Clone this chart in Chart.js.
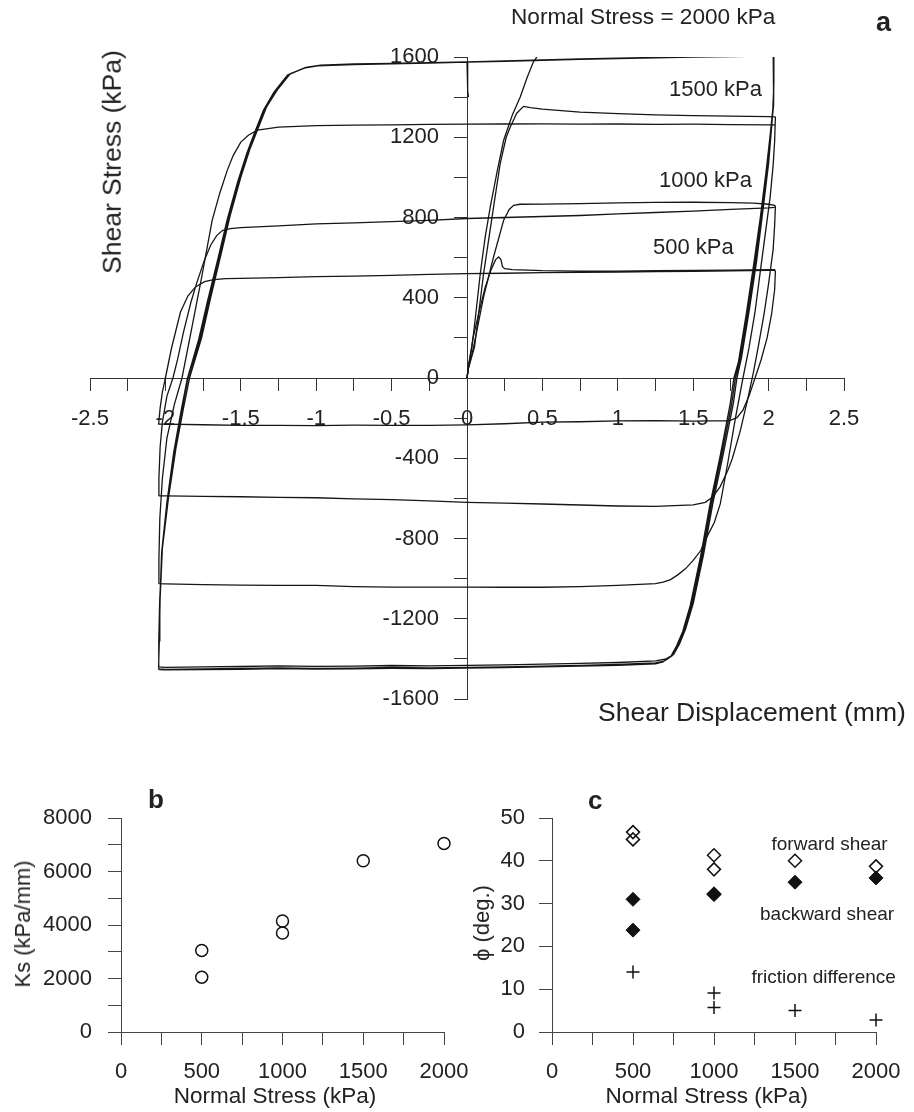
<!DOCTYPE html>
<html><head><meta charset="utf-8">
<script src="https://cdn.jsdelivr.net/npm/chart.js"></script>
<style>
html,body{margin:0;padding:0;background:#fff;}
#wrap{position:relative;width:914px;height:1112px;overflow:hidden;background:#fff;}
canvas{position:absolute;left:0;top:0;}
.t{position:absolute;white-space:nowrap;line-height:1;color:#222;font-family:'Liberation Sans',Arial,Helvetica,sans-serif;}
.b{font-weight:bold;}
.rot{transform:translate(-50%,-50%) rotate(-90deg);}
.ctr{transform:translateX(-50%);}
</style></head><body>
<div id="wrap">
<canvas id="ca" width="914" height="1112"></canvas>
<canvas id="cb" width="914" height="1112"></canvas>
<canvas id="cc" width="914" height="1112"></canvas>
<div class="t" style="font-size:22.6px;left:511px;top:5.9px;">Normal Stress = 2000 kPa</div>
<div class="t b" style="font-size:27px;left:876px;top:8.6px;">a</div>
<div class="t" style="font-size:22px;left:669px;top:78px;">1500 kPa</div>
<div class="t" style="font-size:22px;left:659px;top:169.4px;">1000 kPa</div>
<div class="t" style="font-size:22px;left:653px;top:236.4px;">500 kPa</div>
<div class="t" style="font-size:26.5px;left:598px;top:698.6px;">Shear Displacement (mm)</div>
<div class="t rot" style="font-size:26.5px;left:111.8px;top:161.7px;">Shear Stress (kPa)</div>
<div class="t b" style="font-size:26px;left:148px;top:786px;">b</div>
<div class="t rot" style="font-size:22px;left:23.4px;top:924px;">Ks (kPa/mm)</div>
<div class="t ctr" style="font-size:22.5px;left:275px;top:1085px;">Normal Stress (kPa)</div>
<div class="t b" style="font-size:26px;left:588px;top:787px;">c</div>
<div class="t rot" style="font-size:22px;left:482px;top:923px;">ϕ (deg.)</div>
<div class="t ctr" style="font-size:22.5px;left:706.7px;top:1085px;">Normal Stress (kPa)</div>
<div class="t" style="font-size:19px;left:771.5px;top:833.9px;">forward shear</div>
<div class="t" style="font-size:19px;left:760px;top:903.9px;">backward shear</div>
<div class="t" style="font-size:19px;left:751.5px;top:966.9px;">friction difference</div>
</div>
<script>
// ---------- Panel a: shear displacement (mm) vs shear stress (kPa) ----------
const x500 = [
  0, 0.01, 0.04, 0.08, 0.12, 0.16, 0.19, 0.21, 0.225, 0.235, 0.25, 0.3, 0.5, 0.75, 1.0, 1.25, 1.5, 1.75, 2.0, 2.04,
  2.045, 2.04, 2.02, 1.99, 1.95, 1.91, 1.87, 1.83, 1.79, 1.75, 1.72, 1.6, 1.5, 1.25, 1.0, 0.75, 0.5, 0.25, 0, -0.25, -0.5, -0.75, -1.0, -1.25, -1.5, -1.75, -2.0, -2.04,
  -2.045, -2.035, -2.02, -2.0, -1.96, -1.9, -1.85, -1.8, -1.74, -1.68, -1.6, -1.5, -1.25, -1.0, -0.75, -0.5, -0.25, 0, 0.25, 0.5, 0.75, 1.0, 1.25, 1.5, 1.75, 2.0, 2.04
];
const y500 = [
  0, 60, 200, 330, 450, 540, 590, 603, 590, 555, 545, 540, 535, 533, 533, 535, 536, 537, 540, 540,
  530, 440, 320, 200, 90, 0, -90, -160, -198, -210, -213, -214, -215, -212, -214, -218, -220, -228, -234, -236, -236, -235, -237, -236, -236, -233, -230, -230,
  -230, -150, -70, 0, 147, 329, 410, 454, 480, 490, 495, 497, 500, 505, 508, 512, 517, 520, 522, 525, 526, 528, 530, 532, 534, 537, 538
];
const x1000 = [
  0, 0.01, 0.044, 0.11, 0.176, 0.243, 0.28, 0.309, 0.35, 0.5, 0.75, 1.0, 1.25, 1.5, 1.75, 1.9, 2.0, 2.04,
  2.045, 2.04, 2.03, 2.0, 1.97, 1.93, 1.9, 1.86, 1.81, 1.76, 1.73, 1.68, 1.63, 1.58, 1.5, 1.25, 1.0, 0.75, 0.5, 0.25, 0, -0.25, -0.5, -0.75, -1.0, -1.25, -1.5, -1.75, -2.0, -2.04,
  -2.045, -2.043, -2.035, -2.02, -1.99, -1.95, -1.92, -1.88, -1.83, -1.79, -1.74, -1.7, -1.66, -1.62, -1.57, -1.5, -1.25, -1.0, -0.75, -0.5, -0.25, 0, 0.25, 0.5, 0.75, 1.0, 1.25, 1.5, 1.75, 2.0, 2.04
];
const y1000 = [
  0, 50, 155, 404, 603, 786, 840, 861, 866, 867, 869, 873, 875, 876, 874, 872, 866, 860,
  855, 760, 640, 470, 320, 150, 30, -110, -270, -400, -460, -540, -593, -620, -632, -640, -638, -633, -628, -624, -620, -612, -606, -602, -597, -595, -592, -590, -588, -588,
  -588, -500, -344, -220, -90, 0, 90, 229, 380, 479, 590, 662, 710, 736, 745, 750, 758, 768, 773, 779, 786, 795, 800, 805, 810, 818, 825, 832, 840, 848, 850
];
const x1500 = [
  0, 0.01, 0.05, 0.11, 0.176, 0.22, 0.26, 0.287, 0.33, 0.375, 0.42, 0.5, 0.75, 1.0, 1.25, 1.5, 1.75, 2.0, 2.04,
  2.045, 2.04, 2.03, 2.01, 1.98, 1.95, 1.91, 1.87, 1.83, 1.78, 1.73, 1.68, 1.64, 1.59, 1.55, 1.5, 1.45, 1.4, 1.35, 1.3, 1.25, 1.0, 0.75, 0.5, 0.25, 0, -0.25, -0.5, -0.75, -1.0, -1.25, -1.5, -1.75, -2.0, -2.04,
  -2.045, -2.043, -2.037, -2.02, -1.99, -1.94, -1.89, -1.83, -1.76, -1.69, -1.64, -1.59, -1.55, -1.5, -1.45, -1.39, -1.32, -1.25, -1.0, -0.75, -0.5, -0.25, 0, 0.25, 0.5, 0.75, 1.0, 1.25, 1.5, 1.75, 2.0, 2.04
];
const y1500 = [
  0, 50, 155, 520, 852, 1069, 1200, 1251, 1320, 1354, 1348, 1340, 1325, 1318, 1312, 1308, 1305, 1303, 1302,
  1300, 1180, 1060, 900, 730, 560, 330, 150, 0, -200, -420, -626, -720, -793, -860, -909, -950, -980, -1005, -1018, -1025, -1034, -1040, -1043, -1043, -1042, -1042, -1042, -1040, -1034, -1034, -1032, -1030, -1026, -1025,
  -1025, -900, -700, -500, -300, -130, 0, 230, 500, 786, 920, 1035, 1110, 1176, 1210, 1235, 1243, 1250, 1258, 1260, 1262, 1264, 1265, 1266, 1267, 1265, 1266, 1264, 1265, 1263, 1262, 1262
];
const x2000 = [
  0, 0.01, 0.033, 0.06, 0.088, 0.12, 0.154, 0.2, 0.243, 0.3, 0.353, 0.4, 0.44, 0.474, 0.52, 0.6, 0.75, 1.0, 1.25, 1.5, 1.75, 2.0, 2.03,
  2.035, 2.035, 2.03, 2.02, 2.0, 1.96, 1.92, 1.87, 1.82, 1.79, 1.766, 1.70, 1.63, 1.57, 1.50, 1.45, 1.41, 1.37, 1.32, 1.25, 1.0, 0.75, 0.5, 0.25, 0, -0.25, -0.5, -0.75, -1.0, -1.25, -1.5, -1.75, -2.0, -2.045,
  -2.045, -2.04, -2.035, -2.02, -1.98, -1.93, -1.88, -1.84, -1.76, -1.7, -1.63, -1.57, -1.5, -1.44, -1.39, -1.33, -1.26, -1.17, -1.06, -0.97, -0.75, -0.5, -0.25, 0, 0.25, 0.5, 0.75, 1.0, 1.25, 1.5, 1.75, 2.0, 2.035,
  2.035, 2.035, 2.03, 2.015, 1.995, 1.955, 1.91, 1.86, 1.81, 1.78, 1.755, 1.69, 1.62, 1.56, 1.49, 1.44, 1.40, 1.36, 1.31, 1.25, 1.0, 0.75, 0.5, 0.25, 0, -0.25, -0.5, -0.75, -1.0, -1.25, -1.5, -1.75, -2.0, -2.045,
  -2.045, -2.042, -2.037, -2.025, -1.99, -1.945, -1.895, -1.855, -1.78, -1.72, -1.65, -1.59, -1.52, -1.46, -1.41, -1.35, -1.28, -1.19, -1.08, -0.99, -0.75, -0.5, -0.25, 0, 0.25, 0.5, 0.75, 1.0, 1.25, 1.5, 1.75, 2.0, 2.035,
  2.035, 2.035, 2.028, 2.01, 1.985, 1.945, 1.90, 1.85, 1.80, 1.77, 1.745, 1.68, 1.61, 1.55, 1.48, 1.43, 1.39, 1.35, 1.30, 1.25, 1.0, 0.75, 0.5, 0.25, 0, -0.25, -0.5, -0.75, -1.0, -1.25, -1.5, -1.75, -2.0, -2.045,
  -2.045, -2.043, -2.038, -2.022, -1.985, -1.94, -1.89, -1.85, -1.77, -1.71, -1.64, -1.58, -1.51, -1.45, -1.40, -1.34, -1.27, -1.18, -1.07, -0.98, -0.75, -0.5, -0.25, -0.05, 0, 0.003, 0.006, 0.01
];
const y2000 = [
  0, 60, 155, 330, 520, 700, 852, 1030, 1185, 1310, 1401, 1500, 1575, 1612, 1620, 1625, 1627, 1630, 1632, 1635, 1638, 1642, 1645,
  1645, 1500, 1380, 1250, 1070, 820, 580, 330, 100, 0, -128, -377, -626, -875, -1125, -1250, -1324, -1378, -1400, -1410, -1418, -1422, -1426, -1430, -1432, -1435, -1433, -1436, -1437, -1435, -1438, -1440, -1442, -1440,
  -1440, -1300, -1100, -850, -600, -350, -150, 0, 200, 400, 620, 811, 1000, 1140, 1235, 1350, 1434, 1518, 1550, 1560, 1565, 1568, 1572, 1576, 1580, 1585, 1590, 1594, 1598, 1600, 1603, 1607, 1608,
  1608, 1480, 1360, 1230, 1060, 810, 570, 320, 90, 0, -130, -380, -630, -880, -1130, -1260, -1330, -1385, -1410, -1420, -1428, -1432, -1436, -1440, -1442, -1445, -1443, -1446, -1447, -1445, -1448, -1450, -1452, -1450,
  -1450, -1310, -1120, -870, -620, -370, -160, -5, 190, 385, 600, 790, 980, 1120, 1220, 1335, 1425, 1510, 1545, 1556, 1562, 1566, 1570, 1574, 1578, 1583, 1588, 1592, 1596, 1599, 1602, 1605, 1606,
  1606, 1470, 1340, 1210, 1040, 800, 560, 310, 80, 0, -130, -385, -635, -885, -1135, -1265, -1335, -1390, -1415, -1425, -1432, -1436, -1440, -1444, -1446, -1448, -1447, -1450, -1451, -1449, -1452, -1454, -1455, -1453,
  -1453, -1310, -1110, -860, -610, -360, -155, 0, 195, 390, 610, 800, 990, 1130, 1228, 1342, 1430, 1514, 1548, 1558, 1563, 1567, 1571, 1574, 1575, 1500, 1430, 1400
];
const aXTicks = ['-2.5', '-2', '-1.5', '-1', '-0.5', '0', '0.5', '1', '1.5', '2', '2.5'];
const aYTicks = ['-1600', '-1200', '-800', '-400', '0', '400', '800', '1200', '1600'];

// ---------- Panel b: Ks vs normal stress ----------
const ksStress = [500, 500, 1000, 1000, 1500, 2000];
const ksValue = [3050, 2050, 4150, 3700, 6400, 7050];
const bXTicks = ['0', '500', '1000', '1500', '2000'];
const bYTicks = ['0', '2000', '4000', '6000', '8000'];

// ---------- Panel c: friction angle vs normal stress ----------
const fwdStress = [500, 500, 1000, 1000, 1500, 2000];
const phiForward = [46.7, 45.0, 41.3, 38.0, 40.0, 38.7];
const bwdStress = [500, 500, 1000, 1000, 1500, 2000];
const phiBackward = [31.0, 23.8, 32.3, 32.1, 35.0, 36.0];
const diffStress = [500, 1000, 1000, 1500, 2000];
const phiDifference = [14.0, 9.1, 5.7, 5.0, 2.8];
const cXTicks = ['0', '500', '1000', '1500', '2000'];
const cYTicks = ['0', '10', '20', '30', '40', '50'];

// ---------- helpers ----------
function toPoints(xs, ys) { return xs.map((x, i) => ({ x: x, y: ys[i] })); }
function labelFrom(list, suffix) {
  return (v) => {
    const hit = list.find(l => Math.abs(parseFloat(l) - v) < 1e-6);
    return hit === undefined ? '' : hit + (suffix || '');
  };
}
function fixedFit(size) {
  return (s) => {
    if (s.isHorizontal()) s.height = size; else s.width = size;
    s.paddingLeft = 0; s.paddingRight = 0; s.paddingTop = 0; s.paddingBottom = 0;
  };
}
Chart.defaults.font.family = "'Liberation Sans', Arial, Helvetica, sans-serif";
Chart.defaults.color = '#222';
const common = {
  responsive: false, animation: false, devicePixelRatio: 1, events: [],
  plugins: { legend: { display: false }, tooltip: { enabled: false } }
};
function axis(extra, boxSize, tickLen, tickColor, ticks) {
  return Object.assign({
    type: 'linear', afterFit: fixedFit(boxSize),
    grid: { display: true, drawOnChartArea: false, drawTicks: true, tickLength: tickLen, tickColor: tickColor, tickWidth: 1 },
    border: { display: true, color: tickColor, width: 1 },
    ticks: Object.assign({ autoSkip: false, maxRotation: 0, minRotation: 0, color: '#222', font: { size: 22 } }, ticks)
  }, extra);
}

// ---------- Panel a ----------
const loops = [[x500, y500], [x1000, y1000], [x1500, y1500], [x2000, y2000]];
new Chart(document.getElementById('ca'), {
  type: 'scatter',
  data: {
    datasets: loops.map(([xs, ys]) => ({
      data: toPoints(xs, ys), showLine: true, pointRadius: 0, borderWidth: 1.3,
      borderColor: '#161616', backgroundColor: '#161616', tension: 0, fill: false
    }))
  },
  options: Object.assign({}, common, {
    layout: { padding: { left: 90, right: 70, top: 57, bottom: 413 } },
    scales: {
      x: axis({ min: -2.5, max: 2.5, position: { y: 0 } }, 0, 12, '#333',
        { stepSize: 0.25, padding: 16, callback: labelFrom(aXTicks) }),
      y: axis({ min: -1600, max: 1600, position: { x: 0 } }, 0, 13, '#333',
        { stepSize: 200, callback: labelFrom(aYTicks, '\u2002\u2002 ') })
    }
  })
});

// ---------- Panel b ----------
new Chart(document.getElementById('cb'), {
  type: 'scatter',
  data: {
    datasets: [{
      data: toPoints(ksStress, ksValue), pointStyle: 'circle', pointRadius: 6,
      pointBorderWidth: 1.5, pointBorderColor: '#111', pointBackgroundColor: 'rgba(255,255,255,0)', clip: false
    }]
  },
  options: Object.assign({}, common, {
    layout: { padding: { left: 41, right: 470, top: 818, bottom: 20 } },
    scales: {
      x: axis({ min: 0, max: 2000, position: 'bottom' }, 60, 13, '#444',
        { stepSize: 250, padding: 14, callback: labelFrom(bXTicks) }),
      y: axis({ min: 0, max: 8000, position: 'left' }, 80, 13, '#444',
        { stepSize: 1000, padding: 16, callback: labelFrom(bYTicks) })
    }
  })
});

// ---------- Panel c ----------
new Chart(document.getElementById('cc'), {
  type: 'scatter',
  data: {
    datasets: [
      { data: toPoints(fwdStress, phiForward), pointStyle: 'rectRot', pointRadius: 6.5,
        pointBorderWidth: 1.5, pointBorderColor: '#111', pointBackgroundColor: 'rgba(255,255,255,0)', clip: false },
      { data: toPoints(bwdStress, phiBackward), pointStyle: 'rectRot', pointRadius: 7,
        pointBorderWidth: 1, pointBorderColor: '#111', pointBackgroundColor: '#111', clip: false },
      { data: toPoints(diffStress, phiDifference), pointStyle: 'cross', pointRadius: 6.5,
        pointBorderWidth: 1.5, pointBorderColor: '#111', pointBackgroundColor: '#111', clip: false }
    ]
  },
  options: Object.assign({}, common, {
    layout: { padding: { left: 472, right: 38, top: 818, bottom: 20 } },
    scales: {
      x: axis({ min: 0, max: 2000, position: 'bottom' }, 60, 13, '#444',
        { stepSize: 250, padding: 14, callback: labelFrom(cXTicks) }),
      y: axis({ min: 0, max: 50, position: 'left' }, 80, 13, '#444',
        { stepSize: 10, padding: 14, callback: labelFrom(cYTicks) })
    }
  })
});
</script>
</body></html>
